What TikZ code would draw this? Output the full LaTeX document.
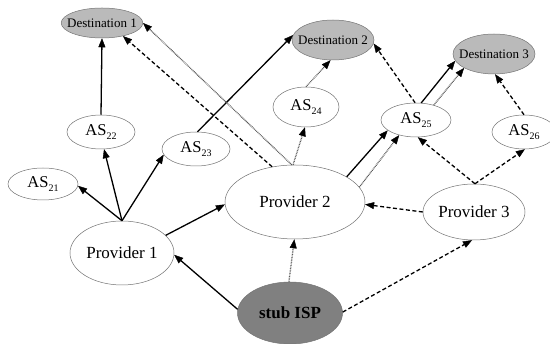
\documentclass[tikz,border=0pt]{standalone}
\usepackage{fontspec}
\setmainfont{Liberation Serif}
\usetikzlibrary{arrows.meta,shapes.geometric}
\newcommand{\ASsub}[1]{AS\raisebox{-4pt}{\fontsize{10}{10}\selectfont #1}}
\begin{document}
\begin{tikzpicture}[x=1pt,y=-1pt,
  ell/.style={ellipse, draw=black!55, line width=0.5pt, inner sep=0pt, fill=white},
  dest/.style={ell, fill=black!27, inner xsep=-6pt, font=\fontsize{13}{15}\selectfont},
  asn/.style={ell, font=\fontsize{16.5}{18}\selectfont},
  prov/.style={ell, font=\fontsize{17}{20}\selectfont},
  stubst/.style={ell, fill=black!50, font=\fontsize{17}{20}\selectfont\bfseries},
  tip/.style={-{Triangle[length=9pt,width=7pt,black,fill=black,line width=0.4pt]}},
  solidedge/.style={tip, line width=1.3pt},
  dashededge/.style={tip, line width=1.3pt, dash pattern=on 4pt off 2.5pt},
  dottededge/.style={tip, line width=1.3pt, draw=black!65, dash pattern=on 0.8pt off 0.8pt},
]
\useasboundingbox (0,0) rectangle (550,344);
% nodes
\node[dest, minimum width=80pt, minimum height=30pt] (d1) at (102,23) {Destination 1};
\node[dest, minimum width=82pt, minimum height=40pt] (d2) at (333,40) {Destination 2};
\node[dest, minimum width=82pt, minimum height=40pt] (d3) at (494,54) {Destination 3};
\node[asn, minimum width=70pt, minimum height=32pt] (as21) at (43,184) {\ASsub{21}};
\node[asn, minimum width=68pt, minimum height=34pt] (as22) at (101,132) {\ASsub{22}};
\node[asn, minimum width=68pt, minimum height=34pt] (as23) at (196,149) {\ASsub{23}};
\node[asn, minimum width=66pt, minimum height=40pt] (as24) at (306,107) {\ASsub{24}};
\node[asn, minimum width=70pt, minimum height=34pt] (as25) at (416,120) {\ASsub{25}};
\node[asn, minimum width=64pt, minimum height=34pt] (as26) at (524,132) {\ASsub{26}};
\node[prov, minimum width=104pt, minimum height=64pt] (p1) at (122,253) {Provider 1};
\node[prov, minimum width=140pt, minimum height=74pt] (p2) at (295,202) {Provider 2};
\node[prov, minimum width=102pt, minimum height=56pt] (p3) at (474,212) {Provider 3};
\node[stubst, minimum width=105pt, minimum height=62pt] (stub) at (290,313) {stub ISP};
% solid edges
\draw[solidedge] (p1.90) -- (as21.-3);
\draw[solidedge] (p1.90) -- (as22.-80);
\draw[solidedge] (p1.90) -- (as23.190);
\draw[solidedge] (as22.90) -- (d1.-90);
\draw[solidedge] (as23.85) -- (d2.173);
\draw[solidedge] (p1.22) -- (p2.182);
\draw[solidedge] (stub.176) -- (p1.-2);
\draw[solidedge] (p2.26) -- (as25.200);
\draw[solidedge] (as25.73) -- (d3.190);
% dotted edges
\draw[dottededge] (stub.92) -- (p2.-91);
\draw[dottededge] (p2.13) -- (as25.222);
\draw[dottededge] (as25.40) -- (d3.205);
\draw[dottededge] (p2.93) -- (as24.-93);
\draw[dottededge] (as24.90) -- (d2.-97);
\draw[dottededge] (p2.95) -- (d1.0);
% dashed edges
\draw[dashededge] (stub.1) -- (p3.-94);
\draw[dashededge] (p3.180) -- (p2.-2);
\draw[dashededge] (p3.88) -- (as25.-84);
\draw[dashededge] (p3.88) -- (as26.-87);
\draw[dashededge] (as26.90) -- (d3.-87);
\draw[dashededge] (as25.93) -- (d2.-5);
\draw[dashededge] (p2.123) -- (d1.-32);
\end{tikzpicture}
\end{document}
